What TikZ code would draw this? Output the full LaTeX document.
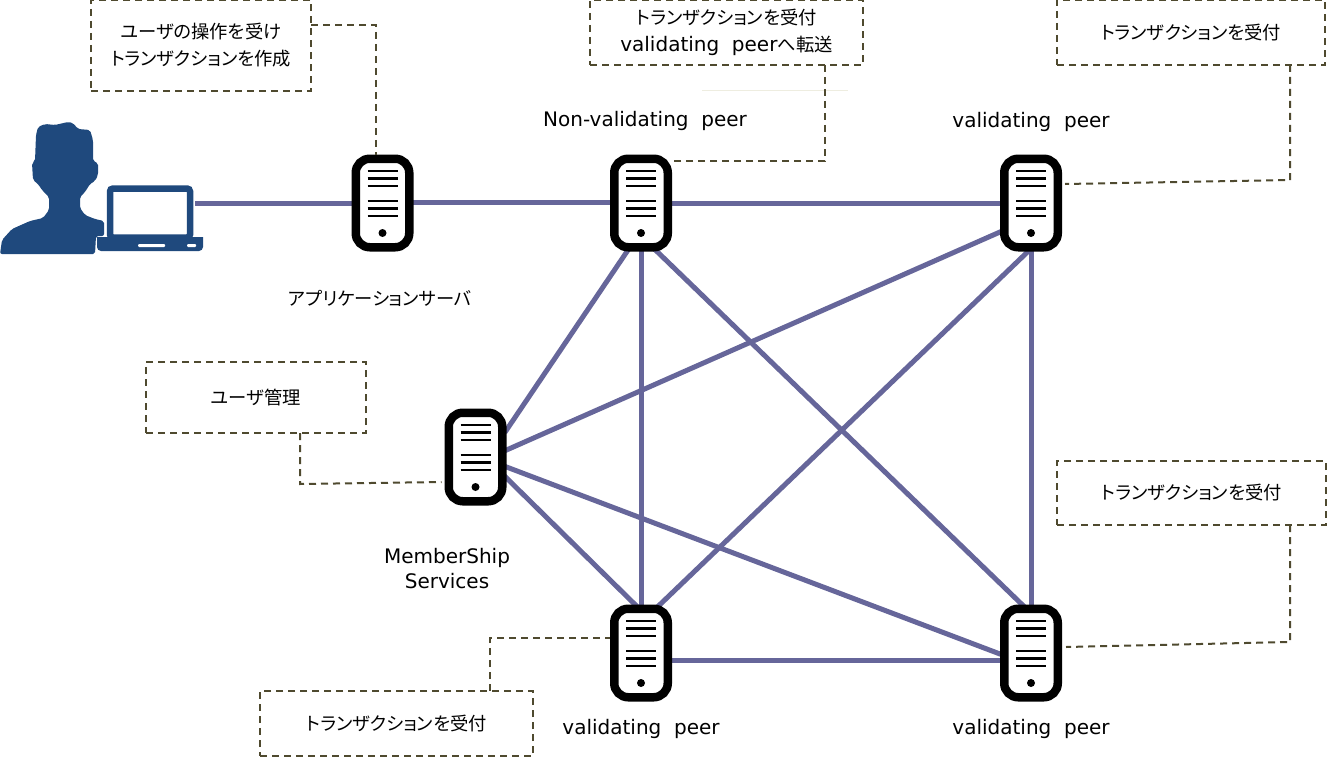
\documentclass[tikz,border=0pt]{standalone}
\usepackage{fontspec}
\setmainfont{DejaVu Sans}
\newfontfamily\jpfont[RawFeature=+palt]{Noto Sans CJK JP}
\usetikzlibrary{backgrounds}
\definecolor{linkcol}{HTML}{66669A}
\definecolor{notecol}{HTML}{4F4A2F}
\definecolor{usercol}{HTML}{1F497D}
\definecolor{palecol}{HTML}{EEEDE0}
\newcommand{\jp}[1]{{\jpfont\fontsize{18.3}{27}\selectfont #1}}
\tikzset{
  server/.style={draw=black,fill=white,line width=8.5pt,rounded corners=14pt,
    minimum width=53.5pt,minimum height=88.5pt,inner sep=0pt,
    path picture={
      \foreach \ly in {32,24.5,17,2,-5.5,-13}
        \draw[black,line width=2.2pt,sharp corners] ([shift={(-15pt,\ly pt)}]path picture bounding box.center) -- ([shift={(15pt,\ly pt)}]path picture bounding box.center);
      \fill[black] ([yshift=-30pt]path picture bounding box.center) circle (4pt);
    }},
  link/.style={draw=linkcol,line width=5pt,shorten <=-3pt,shorten >=-3pt},
  note/.style={draw=notecol,line width=2pt,dash pattern=on 7pt off 5pt,align=center,
    inner sep=0pt,outer sep=0pt,font=\fontsize{20}{27}\selectfont},
  callout/.style={draw=notecol,line width=2pt,dash pattern=on 7pt off 5pt},
  label/.style={font=\fontsize{20}{25}\selectfont,align=center,inner sep=0pt}
}
\begin{document}
\begin{tikzpicture}[x=1pt,y=-1pt]
  \useasboundingbox (0,0) rectangle (1330,757);
  % user and laptop
  \fill[usercol,rounded corners=2pt] (0,254) -- (2,240) -- (12,229) -- (30,221) -- (43,218) -- (49,210) -- (49,197)
    -- (42,190) -- (38,184) -- (33,180) -- (32,163) -- (35,161) -- (36,135) -- (38,127) -- (45,124) -- (55,125)
    -- (68,122) -- (73,123) -- (78,129) -- (90,130) -- (93,140) -- (93,161) -- (98,163) -- (98,175) -- (95,181)
    -- (90,184) -- (85,192) -- (80,197) -- (80,208) -- (85,215) -- (95,219) -- (104,221) -- (104,236) -- (96,236)
    -- (95,254) -- cycle;
  \node[draw=usercol,fill=white,line width=6.5pt,rounded corners=3pt,minimum width=80pt,minimum height=49pt,inner sep=0pt] (laptop) at (150,213) {};
  \fill[usercol] (97,237) -- (203,237) [rounded corners=4pt] -- (203,251) -- (97,251) [sharp corners] -- cycle;
  \fill[white,rounded corners=1pt] (138,244) rectangle (165,247);
  \fill[white,rounded corners=1pt] (187,244) rectangle (196,247);
  % servers
  \node[server] (appsrv) at (382.5,203) {};
  \node[server] (nvpeer) at (641,203) {};
  \node[server] (vpeera) at (1031,203) {};
  \node[server] (msrv) at (475.5,457) {};
  \node[server] (vpeerb) at (641,653) {};
  \node[server] (vpeerc) at (1031,653) {};
  % labels
  \node[label] (nvlabel) at (645,121) {Non-validating~~peer};
  \node[label] (valabel) at (1031,122) {validating~~peer};
  \node[label] (applabel) at (380,298) {\jp{アプリケーションサーバ}};
  \node[label] (mslabel) at (447,569) {MemberShip\\Services};
  \node[label] (vblabel) at (641,729) {validating~~peer};
  \node[label] (vclabel) at (1031,729) {validating~~peer};
  % notes
  \node[note,minimum width=220pt,minimum height=91pt] (notea) at (201,45.5) {\jp{ユーザの操作を受け}\\\jp{トランザクションを作成}};
  \node[note,minimum width=273pt,minimum height=65pt] (noteb) at (726.5,32.5) {\raisebox{-3pt}{\jp{トランザクションを受付}}\\\raisebox{-3pt}{validating~~peer\jp{へ転送}}};
  \node[note,minimum width=268pt,minimum height=65pt] (notec) at (1191,32.5) {\jp{トランザクションを受付}};
  \node[note,minimum width=220pt,minimum height=71pt] (noted) at (256,397.5) {\jp{ユーザ管理}};
  \node[note,minimum width=269pt,minimum height=64pt] (notee) at (1191.5,493) {\jp{トランザクションを受付}};
  \node[note,minimum width=273pt,minimum height=65pt] (notef) at (396.5,723.5) {\jp{トランザクションを受付}};
  \draw[draw=palecol,line width=1.5pt] (702,90.5) -- (848,90.5);
  % callouts
  \draw[callout] ([yshift=20.5pt]notea.east) -- ++(65,0) -- ([xshift=-6.5pt]appsrv.north);
  \draw[callout] ([xshift=98.5pt]noteb.south) -- ++(0,96) -- ([yshift=42pt]nvpeer.east);
  \draw[callout] ([xshift=99pt]notec.south) -- ++(0,115) -- ([shift={(3pt,19pt)}]vpeera.east);
  \draw[callout] ([xshift=44pt]noted.south) -- ++(0,51) -- ([shift={(-3pt,-25pt)}]msrv.west);
  \draw[callout] ([xshift=98.5pt]notee.south) -- ++(0,117) -- ([shift={(4pt,6pt)}]vpeerc.east);
  \draw[callout] ([xshift=93.5pt]notef.north) -- ++(0,-53) -- ([yshift=15pt]vpeerb.west);
  % links
  \begin{scope}[on background layer]
    \draw[link] (laptop.east) ++(5,-10) -- ([yshift=0pt]appsrv.west);
    \draw[link] ([yshift=1pt]appsrv.east) -- ([yshift=1pt]nvpeer.west);
    \draw[link] (nvpeer.east) -- (vpeera.west);
    \draw[link] (nvpeer.south) -- (vpeerb.north);
    \draw[link] (vpeera.south) -- (vpeerc.north);
    \draw[link] ([yshift=-7pt]vpeerb.east) -- ([yshift=-7pt]vpeerc.west);
    \draw[link] ([xshift=16pt]nvpeer.south) -- ([xshift=-9pt]vpeerc.north);
    \draw[link] ([xshift=-3pt]vpeera.south) -- ([xshift=19pt]vpeerb.north);
    \draw[link] ([yshift=27pt]msrv.east) -- ([xshift=-14pt]nvpeer.south);
    \draw[link] ([yshift=7pt]msrv.east) -- ([yshift=-29pt]vpeera.west);
    \draw[link] ([yshift=-10pt]msrv.east) -- ([yshift=-1pt]vpeerc.west);
    \draw[link] ([yshift=-21pt]msrv.east) -- ([xshift=-6pt]vpeerb.north);
  \end{scope}
\end{tikzpicture}
\end{document}
